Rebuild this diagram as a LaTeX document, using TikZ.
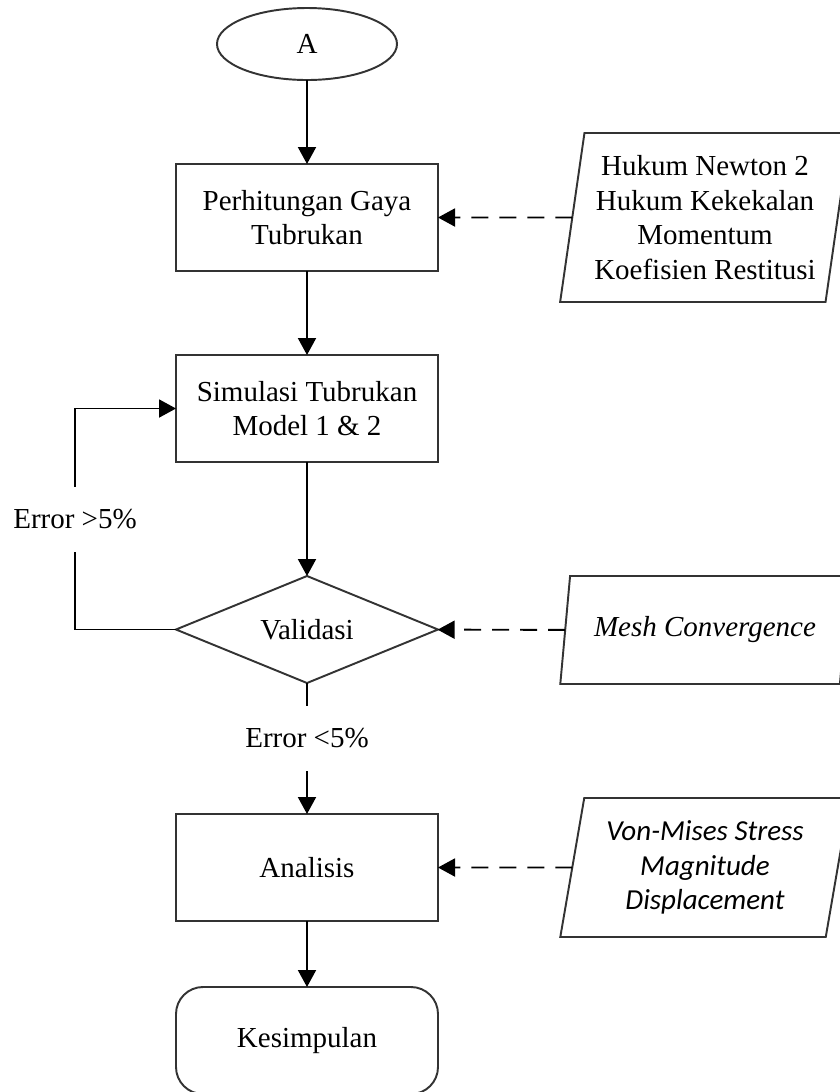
\documentclass[tikz,border=0pt]{standalone}
\usepackage{fontspec}
\setmainfont{Liberation Serif}
\newfontfamily\calibrifont{Carlito}
\usetikzlibrary{arrows.meta,shapes.geometric}

\begin{document}
\begin{tikzpicture}[
    every node/.style={font=\fontsize{16.5}{19.6}\selectfont, align=center, outer sep=0pt},
    process/.style={rectangle, draw=black!80, line width=1.1pt, minimum width=5.24cm, minimum height=2.14cm},
    start/.style={ellipse, draw=black!80, line width=1.1pt, minimum width=3.6cm, minimum height=1.44cm},
    decision/.style={diamond, draw=black!80, line width=1.1pt, aspect=2.45, inner sep=0pt, minimum width=5.24cm, minimum height=2.14cm},
    finish/.style={rectangle, rounded corners=0.54cm, draw=black!80, line width=1.1pt, minimum width=5.24cm, minimum height=2.14cm},
    dataio/.style={trapezium, trapezium stretches=true, draw=black!80, line width=1.1pt, inner sep=2pt, minimum width=5.8cm},
    flow/.style={-{Triangle[length=3.4mm, width=3.6mm]}, line width=1.1pt},
    hint/.style={flow, dash pattern=on 3.4mm off 2.2mm},
    gapbox/.style={fill=white, inner sep=0pt, minimum height=1.3cm}
]
    \useasboundingbox (0,0) rectangle (16.8,-21.84);

    % Main flow
    \node[start] (mulai) at (6.14,-0.88) {A};
    \node[process] (gaya) at (6.14,-4.35) {Perhitungan Gaya\\Tubrukan};
    \node[process] (simulasi) at (6.14,-8.17) {Simulasi Tubrukan\\Model 1 \& 2};
    \node[decision] (validasi) at (6.14,-12.59) {Validasi};
    \node[process] (analisis) at (6.14,-17.35) {Analisis};
    \node[finish] (kesimpulan) at (6.14,-20.81) {Kesimpulan};

    % Inputs
    \node[dataio, trapezium left angle=80, trapezium right angle=100, minimum height=3.38cm] (teori) at (14.1,-4.35)
        {Hukum Newton 2\\Hukum Kekekalan\\Momentum\\Koefisien Restitusi};
    \node[dataio, trapezium left angle=76, trapezium right angle=104, minimum height=2.16cm,
        font=\fontsize{16.5}{19.6}\selectfont\itshape] (mesh) at (14.1,-12.6) {Mesh Convergence};
    \node[dataio, trapezium left angle=78.6, trapezium right angle=101.4, minimum height=2.78cm,
        font=\fontsize{16.5}{19.6}\selectfont\calibrifont\itshape] (hasil) at (14.1,-17.35)
        {Von-Mises Stress\\Magnitude\\Displacement};

    % Arrows
    \draw[flow] (mulai) -- (gaya);
    \draw[flow] (gaya) -- (simulasi);
    \draw[flow] (simulasi) -- (validasi);
    \draw[flow] (validasi) -- node[gapbox, pos=0.42] (lolos) {Error <5\%} (analisis);
    \draw[flow] (analisis) -- (kesimpulan);

    \coordinate (balik) at (1.5,-12.59);
    \draw[flow] (validasi.west) -- (balik) |- node[gapbox, pos=0.25] (gagal) {Error >5\%} (simulasi.west);

    \draw[hint] (teori) -- (gaya);
    \draw[hint] (mesh) -- (validasi);
    \draw[hint] (hasil) -- (analisis);

\end{tikzpicture}
\end{document}
